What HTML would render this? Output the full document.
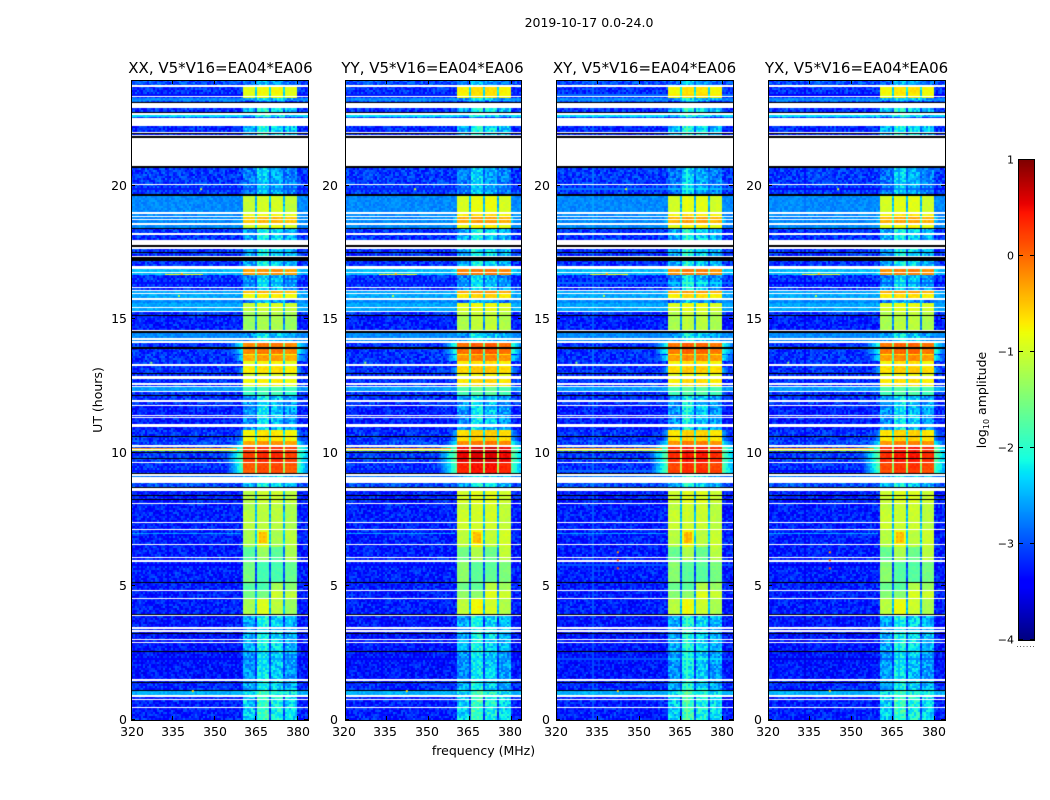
<!DOCTYPE html>
<html>
<head>
<meta charset="utf-8">
<title>2019-10-17 spectrogram</title>
<style>
html,body{margin:0;padding:0;background:#fff;}
#figure{position:relative;width:1050px;height:800px;overflow:hidden;background:#fff;}
canvas{position:absolute;display:block;}
svg{position:absolute;left:0;top:0;}
text{font-family:"DejaVu Sans","Liberation Sans",sans-serif;fill:#000;}
</style>
</head>
<body>
<div id="figure">
<canvas id="p0" width="177" height="640" style="left:131px;top:80px"></canvas>
<canvas id="p1" width="176" height="640" style="left:345px;top:80px"></canvas>
<canvas id="p2" width="177" height="640" style="left:556px;top:80px"></canvas>
<canvas id="p3" width="177" height="640" style="left:768px;top:80px"></canvas>
<canvas id="cb" width="15" height="480" style="left:1019px;top:160px"></canvas>
<svg id="overlay" width="1050" height="800"></svg>
</div>
<script>
// ---------- chart data ----------
const panelTitles = ["XX, V5*V16=EA04*EA06", "YY, V5*V16=EA04*EA06", "XY, V5*V16=EA04*EA06", "YX, V5*V16=EA04*EA06"];
const panelNames = ["xx", "yy", "xy", "yx"];
const xTicks = [320, 335, 350, 365, 380];
const yTicks = [0, 5, 10, 15, 20];
const cbTicks = [-4, -3, -2, -1, 0, 1];
// upper UT edge of each time band
const bandEnd = [0.94,1.09,1.54,2.55,3.94,4.57,4.84,5.14,5.93,6.49,7.12,7.87,8.1,8.62,8.92,9.28,9.64,10.24,10.46,10.87,11.44,11.8,12.19,12.34,12.49,12.79,12.98,13.24,13.46,13.69,13.72,14.14,14.51,14.63,15.15,15.34,15.49,15.64,15.75,16.0,16.09,16.5,16.7,16.91,17.55,18.41,18.56,18.9,19.05,19.65,20.79,21.82,22.28,22.6,22.69,22.95,23.2,23.34,23.74,23.81,24];
// log10 amplitude away from the bright blocks
const bandBackground = [-3.25,-2.5,-3.2,-3.3,-3.3,-3.25,-3.25,-3.25,-3.25,-3.25,-3.25,-3.25,-3.25,-3.25,-3.0,-2.8,-3.15,-3.1,-3.05,-3.15,-3.25,-3.25,-3.15,-3.15,-2.6,-3.15,-3.15,-3.15,-3.15,-3.15,-3.15,-3.15,-2.7,-2.7,-3.25,-3.15,-2.55,-2.55,-2.7,-2.55,-2.55,-3.15,-3.15,-2.45,-3.15,-3.15,-2.7,-2.7,-2.7,-2.7,-3.1,-3,-3.2,-3,-2.3,-3.15,-3,-2.7,-3.15,-3,-3.0];
// log10 amplitude inside the bright blocks
const bandBlock = [-2.05,-2.0,-2.25,-2.35,-2.25,-1.05,-1.25,-1.7,-1.6,-1.35,-0.95,-1.05,-1.2,-1.1,-2.25,-2.25,0.1,0.25,-0.3,-0.75,-2.35,-2.35,-2.35,-1.95,-1.9,-0.8,-1.0,-0.7,-0.85,-0.35,-0.8,-0.15,-2.35,-2.35,-1.3,-1.25,-1.05,-1.0,-2.6,-0.8,-0.45,-2.35,-2.45,-0.3,-2.25,-2.25,-0.95,-0.5,-0.85,-1.05,-2.5,-3,-2.2,-3,-2.2,-2.2,-3,-2.4,-0.85,-3,-2.6];
const blockStart = [360.6, 365.6, 370.6, 375.6];
const blockEnd = [365.1, 370.1, 375.1, 379.9];
const strongTrim = [-0.03, 0.08, 0.08, -0.03];
const weakTrim = [-0.3, 0.15, -0.05, -0.25];
// per-block deviations: UT start, UT end, then one delta per block
const blockShape = [[3.94,4.57,-0.15,0.05,-0.15,-0.25],[4.57,4.84,-0.25,-0.35,0.15,0.15],[4.84,5.14,0,-0.2,0.35,0.3],[5.14,5.93,0.1,-0.3,-0.3,0],[5.93,6.49,-0.35,-0.05,-0.45,0.15],[6.49,7.12,-0.25,-0.05,-0.35,-0.15],[7.12,7.87,-0.05,-0.15,-0.15,-0.15]];
// extra log10 amplitude in the strong blocks, per polarisation
const panelGain = [0, 0.14, 0.1, 0.1];
const whiteFlags = [[0.45,0.49],[0.76,0.8],[0.86,0.94],[1.47,1.54],[1.75,1.77],[2.89,2.93],[3.0,3.04],[3.31,3.37],[3.43,3.49],[3.9,3.95],[4.55,4.59],[4.84,4.88],[5.94,5.99],[6.08,6.13],[6.56,6.61],[7.13,7.17],[7.39,7.43],[8.1,8.15],[8.6,8.69],[8.9,9.1],[9.15,9.21],[9.65,9.69],[10.13,10.16],[10.25,10.31],[10.98,11.1],[11.31,11.36],[11.4,11.44],[11.79,11.81],[11.93,12.0],[12.31,12.34],[12.48,12.53],[12.56,12.63],[12.8,12.9],[13.27,13.35],[14.15,14.22],[14.25,14.31],[14.58,14.63],[15.31,15.35],[15.45,15.48],[15.75,15.81],[15.96,16.02],[16.08,16.13],[16.19,16.25],[16.75,16.81],[16.91,17.03],[17.35,17.4],[17.66,17.75],[17.82,18.0],[18.18,18.28],[18.57,18.64],[18.74,18.79],[18.86,18.91],[18.99,19.04],[20.06,20.09],[20.79,21.81],[21.91,21.95],[22.0,22.04],[22.28,22.59],[22.7,22.75],[22.94,23.13],[23.35,23.4],[23.75,23.8]];
const blackFlags = [[1.09,1.12],[1.37,1.41],[2.55,2.57],[3.22,3.25],[3.95,3.98],[5.15,5.18],[8.25,8.28],[8.41,8.44],[8.69,8.73],[9.21,9.28],[9.7,9.72],[9.8,9.83],[9.92,9.95],[10.01,10.04],[10.62,10.65],[12.1,12.13],[12.16,12.19],[12.98,13.02],[13.93,13.97],[14.52,14.58],[15.16,15.19],[16.38,16.4],[17.22,17.35],[17.5,17.55],[17.75,17.82],[18.41,18.45],[19.41,19.44],[19.65,19.73],[20.71,20.79],[21.81,21.9],[21.96,22.0],[22.75,22.79],[23.13,23.19]];
// streaks and hot patches: UT start, UT end, freq start, freq end, log10 amplitude
const patches = [[6.65,7.05,366,369.5,-0.45],[16.68,16.72,332,346,-0.9],[10.16,10.19,320,358,-0.3],[10.09,10.12,320,358,-1.0],[5.2,5.23,322,334,-1.1],[6.98,7.02,320,360,-2.6]];
// isolated bright pixels: UT, freq, log10 amplitude
const specks = [[5.7,342,0.2],[6.0,342,0.2],[6.3,342,-0.2],[13.4,327,-1.4],[15.9,337,-1.2],[19.9,345,-1.0],[1.1,342,-0.6],[16.72,338,-0.4]];
// fixed speckle deltas (log10) used for the pixel-level texture
const speckle = [0.22,-0.18,0.05,-0.31,0.34,-0.09,0.12,-0.24,0.41,-0.15,0.02,-0.28,0.18,0.29,-0.35,0.07,-0.12,0.25,-0.21,0.38,-0.04,-0.33,0.15,0.09,-0.19,0.31,-0.26,0.03,0.2,-0.11,-0.37,0.27,0.11,-0.07,0.36,-0.23,0.06,-0.16,0.24,-0.3,0.14,0.33,-0.02,-0.2,0.17,-0.27,0.08];

// ---------- scales ----------
const AX_W = 177, AX_H = 640, AX_TOP = 80, F0 = 320, F1 = 384, UT_MAX = 24;
const panelLeft = [131, 345, 556, 768];
const yLabelEnd = [127, 338, 550, 762];
const labelShift = [1, -1, 0, 0];
function xScale(f, left) { return left + (f - F0) * AX_W / (F1 - F0); }
function yScale(ut) { return 719.5 - ut * 26.7; }
function cbScale(v) { return 160 + (1 - v) * 480 / 5; }

function interp(t, pts) {
  for (let i = 1; i < pts.length; i++) {
    if (t <= pts[i][0]) {
      const a = pts[i - 1], b = pts[i];
      return a[1] + (b[1] - a[1]) * (t - a[0]) / (b[0] - a[0]);
    }
  }
  return pts[pts.length - 1][1];
}
function jet(v) {
  const t = Math.max(0, Math.min(1, (v + 4) / 5));
  const r = interp(t, [[0,0],[0.35,0],[0.66,1],[0.89,1],[1,0.5]]);
  const g = interp(t, [[0,0],[0.125,0],[0.375,1],[0.64,1],[0.91,0],[1,0]]);
  const b = interp(t, [[0,0.5],[0.11,1],[0.34,1],[0.65,0],[1,0]]);
  return "rgb(" + Math.round(r * 255) + "," + Math.round(g * 255) + "," + Math.round(b * 255) + ")";
}
function inFlags(ut, list) {
  for (let i = 0; i < list.length; i++) if (ut >= list[i][0] && ut < list[i][1]) return true;
  return false;
}
function bandIndex(ut) {
  for (let i = 0; i < bandEnd.length; i++) if (ut < bandEnd[i]) return i;
  return bandEnd.length - 1;
}
function shapeDelta(ut, b) {
  for (let i = 0; i < blockShape.length; i++) {
    const s = blockShape[i];
    if (ut >= s[0] && ut < s[1]) return s[2 + b];
  }
  return 0;
}
function cellValue(p, ut, f, row, col) {
  const i = bandIndex(ut);
  const bg = bandBackground[i];
  const lvl = bandBlock[i];
  const strong = lvl > -2;
  let base = bg;
  let amp = bg > -2.9 ? 0.35 : 0.8;
  let inside = -1;
  for (let b = 0; b < 4; b++) if (f >= blockStart[b] && f < blockEnd[b]) inside = b;
  if (inside >= 0) {
    const trim = strong ? strongTrim[inside] : weakTrim[inside];
    base = lvl + trim + shapeDelta(ut, inside) + (strong ? panelGain[p] : 0);
    if (p === 1 && lvl > 0) base += 0.15;
    amp = strong ? 0.2 : 0.85;
  } else if (f >= blockStart[0] && f < blockEnd[3]) {
    base = Math.max(bg + 0.2, lvl - 1.4);
    amp = 0.5;
  } else if (lvl > -0.8) {
    const shoulder = lvl + panelGain[p] - 1.9;
    const dist = f < blockStart[0] ? blockStart[0] - f : f - blockEnd[3];
    const ramp = shoulder - dist * 0.22;
    if (ramp > base) { base = ramp; amp = 0.4; }
  }
  for (let k = 0; k < patches.length; k++) {
    const q = patches[k];
    if (ut >= q[0] && ut < q[1] && f >= q[2] && f < q[3]) { base = q[4]; amp = 0.3; }
  }
  const g = speckle[(col * 17 + row * 29 + col * row + p * 5) % speckle.length];
  return base + g * amp;
}
function drawPanel(p) {
  const cv = document.getElementById("p" + p);
  const ctx = cv.getContext("2d");
  ctx.fillStyle = "#fff";
  ctx.fillRect(0, 0, cv.width, cv.height);
  const CW = 2;
  for (let r = 0; r < AX_H; r++) {
    const ut = (r + 0.5) * UT_MAX / AX_H;
    const y = AX_H - 1 - r;
    if (inFlags(ut, whiteFlags)) continue;
    if (inFlags(ut, blackFlags)) {
      ctx.fillStyle = "#000";
      ctx.fillRect(0, y, cv.width, 1);
      continue;
    }
    const rowBin = Math.floor(r / 2);
    for (let c = 0; c * CW < AX_W; c++) {
      const f = F0 + (c * CW + 1) * (F1 - F0) / AX_W;
      ctx.fillStyle = jet(cellValue(p, ut, f, rowBin, c));
      ctx.fillRect(c * CW, y, CW, 1);
    }
  }
  for (let s = 0; s < specks.length; s++) {
    const sp = specks[s];
    if (inFlags(sp[0], whiteFlags)) continue;
    if (s < 3 && p < 2) continue;
    ctx.fillStyle = jet(sp[2]);
    ctx.fillRect(xScale(sp[1], 0), yScale(sp[0]) - AX_TOP, 2, 2);
  }
}
function drawColorbar() {
  const ctx = document.getElementById("cb").getContext("2d");
  for (let y = 0; y < 480; y++) {
    ctx.fillStyle = jet(1 - (y + 0.5) * 5 / 480);
    ctx.fillRect(0, y, 15, 1);
  }
}

// ---------- overlay helpers ----------
const NS = "http://www.w3.org/2000/svg";
const svg = document.getElementById("overlay");
function line(x1, y1, x2, y2, parent) {
  const el = document.createElementNS(NS, "line");
  el.setAttribute("x1", x1);
  el.setAttribute("y1", y1);
  el.setAttribute("x2", x2);
  el.setAttribute("y2", y2);
  el.setAttribute("stroke", "#000");
  el.setAttribute("stroke-width", "1");
  
  
  parent.appendChild(el);
  return el;
}
function label(str, x, y, size, anchor, parent) {
  const el = document.createElementNS(NS, "text");
  el.setAttribute("x", x);
  el.setAttribute("y", y);
  el.setAttribute("font-size", size);
  el.setAttribute("text-anchor", anchor);
  
  
  el.textContent = str;
  parent.appendChild(el);
  return el;
}
function drawAxes(p) {
  const left = panelLeft[p];
  const g = document.createElementNS(NS, "g");
  
  
  svg.appendChild(g);
  const frame = document.createElementNS(NS, "rect");
  frame.setAttribute("x", left + 0.5);
  frame.setAttribute("y", AX_TOP + 0.5);
  frame.setAttribute("width", AX_W - (p === 1 ? 1 : 0));
  frame.setAttribute("height", AX_H);
  frame.setAttribute("fill", "none");
  frame.setAttribute("stroke", "#000");
  
  
  g.appendChild(frame);
  xTicks.forEach(function (f) {
    const x = Math.round(xScale(f, left)) + 0.5;
    line(x, AX_TOP + AX_H, x, AX_TOP + AX_H - 4, g);
    line(x, AX_TOP, x, AX_TOP + 4, g);
    label(String(f), x - 0.5 + labelShift[p], AX_TOP + AX_H + 16, 12.5, "middle", g);
  });
  yTicks.forEach(function (u) {
    const y = Math.round(yScale(u)) - 0.5;
    line(left, y, left + 4, y, g);
    line(left + AX_W, y, left + AX_W - 4, y, g);
    label(String(u), yLabelEnd[p], y + 4.5, 12.5, "end", g);
  });
  const t = label(panelTitles[p], left + AX_W / 2 + labelShift[p], 73, 15, "middle", g);
  
}
function drawColorbarAxis() {
  const g = document.createElementNS(NS, "g");
  
  
  svg.appendChild(g);
  const frame = document.createElementNS(NS, "rect");
  frame.setAttribute("x", 1018.5);
  frame.setAttribute("y", 159.5);
  frame.setAttribute("width", 16);
  frame.setAttribute("height", 481);
  frame.setAttribute("fill", "none");
  frame.setAttribute("stroke", "#000");
  
  
  g.appendChild(frame);
  cbTicks.forEach(function (v) {
    const y = Math.round(cbScale(v)) - 0.5;
    line(1019, y, 1023, y, g);
    line(1034, y, 1030, y, g);
    const txt = v < 0 ? "\u2212" + Math.abs(v) : String(v);
    label(txt, 1014, y + 4, 11, "end", g);
  });
}

for (let p = 0; p < 4; p++) {
  drawPanel(p);
  drawAxes(p);
}
drawColorbar();
drawColorbarAxis();
</script>
<svg width="1050" height="800" style="pointer-events:none">
<text x="589" y="27" font-size="12.5" text-anchor="middle">2019-10-17 0.0-24.0</text>
<text x="483.5" y="755" font-size="12.5" text-anchor="middle">frequency (MHz)</text>
<text transform="translate(102,400) rotate(-90)" font-size="12.5" text-anchor="middle">UT (hours)</text>
<text transform="translate(986,400) rotate(-90)" font-size="12.5" text-anchor="middle">log<tspan font-size="8" dy="3">10</tspan><tspan dy="-3"> amplitude</tspan></text>
<text x="1026" y="647" font-size="7" fill="#666" text-anchor="middle" letter-spacing="1">......</text>
</svg>
</body>
</html>
